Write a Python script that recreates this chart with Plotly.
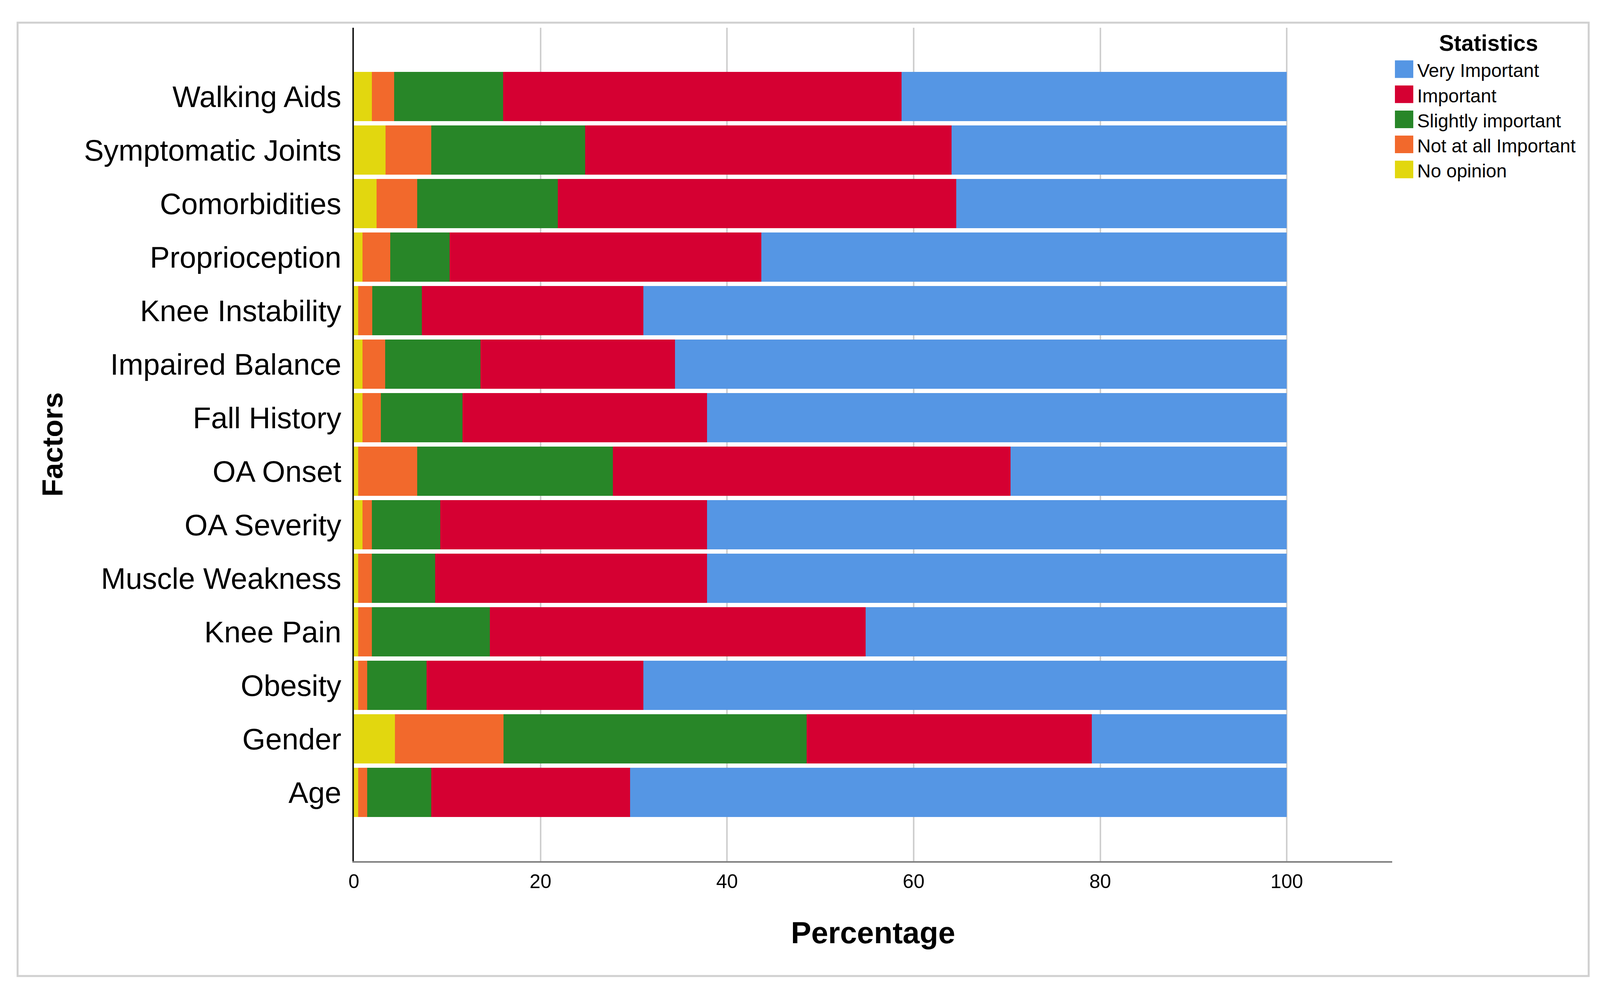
import plotly.graph_objects as go

# ---------------- data ----------------
factors = ["Age", "Gender", "Obesity", "Knee Pain", "Muscle Weakness", "OA Severity",
           "OA Onset", "Fall History", "Impaired Balance", "Knee Instability",
           "Proprioception", "Comorbidities", "Symptomatic Joints", "Walking Aids"]

no_opinion = [0.45, 4.39, 0.45, 0.45, 0.45, 0.94, 0.45, 0.94, 0.94, 0.45, 0.94, 2.42, 3.41, 1.93]
not_at_all = [0.99, 11.65, 0.99, 1.48, 1.48, 0.99, 6.34, 1.97, 2.41, 1.52, 2.96, 4.37, 4.86, 2.40]
slightly = [6.83, 32.51, 6.34, 12.64, 6.77, 7.32, 20.97, 8.74, 10.23, 5.31, 6.34, 15.06, 16.53, 11.65]
important = [21.33, 30.55, 23.25, 40.27, 29.15, 28.60, 42.62, 26.20, 20.82, 23.75, 33.45, 42.72, 39.27, 42.72]
very_important = [70.40, 20.90, 68.97, 45.16, 62.15, 62.15, 29.62, 62.15, 65.60, 68.97, 56.31, 35.43, 35.93, 41.30]

series_names = ["No opinion", "Not at all Important", "Slightly important", "Important", "Very Important"]
series_values = [no_opinion, not_at_all, slightly, important, very_important]
series_colors = ["#E2D70F", "#F2692C", "#288628", "#D50032", "#5596E4"]

legend_title = "Statistics"
x_ticks = [0, 20, 40, 60, 80, 100]

# ---------------- figure ----------------
fig = go.Figure()
for name, vals, col in zip(series_names, series_values, series_colors):
    fig.add_trace(go.Bar(
        y=factors, x=vals, name=name, orientation="h",
        marker=dict(color=col, line=dict(width=0)),
        showlegend=False,
    ))

# the browser viewport is 4096 px wide, so the layout is fitted to it
W, H = 4096, 2521
ml, mr, mt, mb = 898, 540, 63, 325
pw, ph = W - ml - mr, H - mt - mb

FONT = "Liberation Sans, Arial, sans-serif"


def px_x(p):
    return (p - ml) / pw


def px_y(p):
    return (H - mb - p) / ph


fig.update_layout(
    width=W, height=H,
    margin=dict(l=ml, r=mr, t=mt, b=mb, autoexpand=False),
    barmode="stack", bargap=0.08,
    paper_bgcolor="white", plot_bgcolor="white",
    font=dict(family=FONT, color="black"),
    showlegend=False,
)

fig.update_xaxes(
    range=[0, 111.3], tickvals=x_ticks, ticktext=[str(t) for t in x_ticks],
    showgrid=True, gridcolor="#CFCFCF", gridwidth=4,
    showline=True, linecolor="#7F7F7F", linewidth=4,
    zeroline=False, ticks="", ticklabelstandoff=5,
    tickfont=dict(size=50),
    title=dict(text="<b>Percentage</b>", font=dict(size=78), standoff=77),
    automargin=False,
)
fig.update_yaxes(
    range=[-1.285, 14.285],
    showgrid=False,
    showline=True, linecolor="#1A1A1A", linewidth=4,
    ticks="", ticklabelstandoff=13,
    tickfont=dict(size=76),
    title=dict(text="<b>Factors</b>", font=dict(size=74), standoff=31),
    automargin=False,
)

# outer frame of the chart
fig.add_shape(type="rect", xref="paper", yref="paper",
              x0=px_x(37), x1=px_x(4059), y0=px_y(2490), y1=px_y(50),
              line=dict(color="#D0D0D0", width=5), fillcolor="rgba(0,0,0,0)", layer="below")

# legend (large square swatches as in the original), top entry = last series
fig.add_annotation(xref="paper", yref="paper", x=px_x(3802), y=px_y(102),
                   text="<b>" + legend_title + "</b>", showarrow=False,
                   xanchor="center", yanchor="middle", font=dict(size=57, family=FONT))
row_y0, row_step = 169, 64.2
for i, (name, col) in enumerate(zip(series_names[::-1], series_colors[::-1])):
    cy = row_y0 + i * row_step
    fig.add_shape(type="rect", xref="paper", yref="paper",
                  x0=px_x(3563), x1=px_x(3610), y0=px_y(cy + 22.5), y1=px_y(cy - 22.5),
                  line=dict(width=0), fillcolor=col)
    fig.add_annotation(xref="paper", yref="paper", x=px_x(3618), y=px_y(cy + 4),
                       text=name, showarrow=False, xanchor="left", yanchor="middle",
                       font=dict(size=48, family=FONT))

fig.write_html("out.html")
